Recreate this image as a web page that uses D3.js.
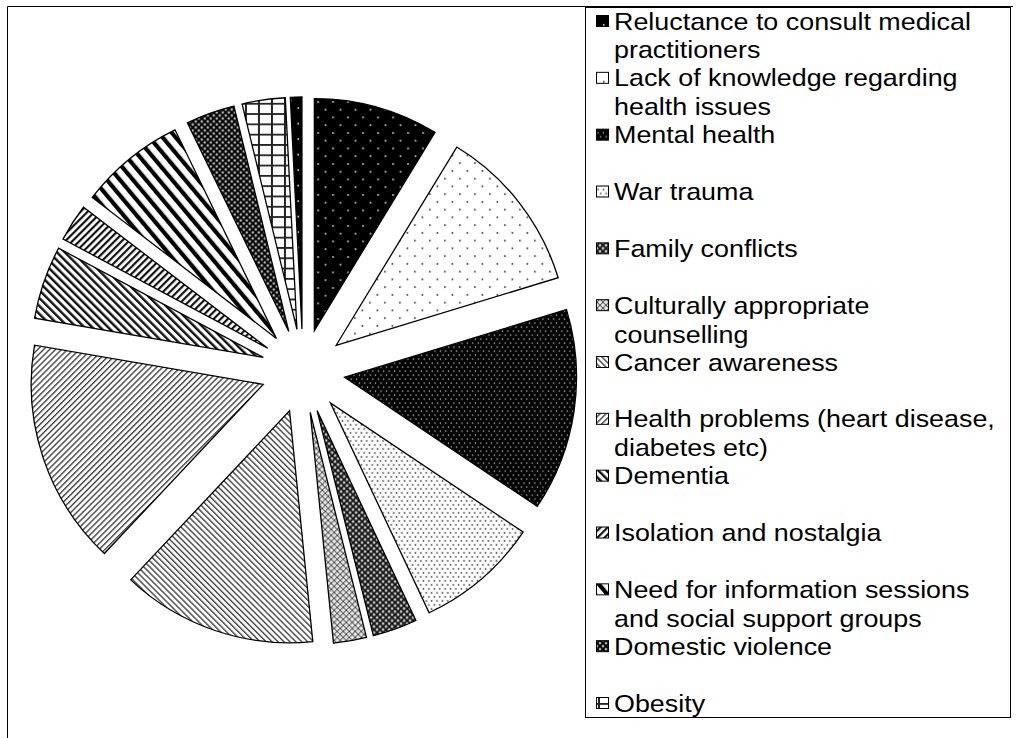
<!DOCTYPE html>
<html>
<head>
<meta charset="utf-8">
<script src="https://cdn.jsdelivr.net/npm/d3@7"></script>
<style>
  body { margin: 0; background: #fff; }
  text { font-family: "Liberation Sans", Arial, sans-serif; }
</style>
</head>
<body>
<div id="wrapper"></div>
<script>
// issues raised (share of responses)
const categories = [
    "Reluctance to consult medical practitioners",
    "Lack of knowledge regarding health issues",
    "Mental health",
    "War trauma",
    "Family conflicts",
    "Culturally appropriate counselling",
    "Cancer awareness",
    "Health problems (heart disease, diabetes etc)",
    "Dementia",
    "Isolation and nostalgia",
    "Need for information sessions and social support groups",
    "Domestic violence",
    "Obesity",
    "",
]
const values = [8.7, 11.6, 14.1, 8.6, 3.1, 2.3, 13.6, 15.7, 5.1, 2.6, 7.4, 3.4, 3.0, 0.8]
// legend text as it is wrapped in the picture
const legendLines = [
    ["Reluctance to consult medical", "practitioners"],
    ["Lack of knowledge regarding", "health issues"],
    ["Mental health"],
    ["War trauma"],
    ["Family conflicts"],
    ["Culturally appropriate", "counselling"],
    ["Cancer awareness"],
    ["Health problems (heart disease,", "diabetes etc)"],
    ["Dementia"],
    ["Isolation and nostalgia"],
    ["Need for information sessions", "and social support groups"],
    ["Domestic violence"],
    ["Obesity"],
]
const patternIds = ["blackDots", "whiteDots", "blackDense", "whiteDense", "crossDark", "crossLight",
    "diagDownThin", "diagUpThin", "diagDownDark", "diagUpDark", "diagWide", "crossDarker", "grid", "blackDots"]

const dimensions = {
    width: 1020,
    height: 738,
    cx: 303,
    cy: 371,
    radius: 232,
    explode: 42,
}

const svg = d3.select("#wrapper")
    .append("svg")
    .attr("width", dimensions.width)
    .attr("height", dimensions.height)

const defs = svg.append("defs")

function dotPattern(id, w, h, bg, fg, r, pts) {
    const p = defs.append("pattern").attr("id", id)
        .attr("patternUnits", "userSpaceOnUse")
        .attr("width", w).attr("height", h)
    p.append("rect").attr("width", w).attr("height", h).attr("fill", bg)
    pts.forEach(d => p.append("circle").attr("cx", d[0]).attr("cy", d[1]).attr("r", r).attr("fill", fg))
}
function stripePattern(id, size, color, lw, angle) {
    const p = defs.append("pattern").attr("id", id)
        .attr("patternUnits", "userSpaceOnUse")
        .attr("width", size).attr("height", size)
        .attr("patternTransform", `rotate(${angle})`)
    p.append("rect").attr("width", size).attr("height", size).attr("fill", "#fff")
    p.append("rect").attr("width", lw).attr("height", size).attr("fill", color)
}
function crossPattern(id, size, bg, line, lw, dot) {
    const p = defs.append("pattern").attr("id", id)
        .attr("patternUnits", "userSpaceOnUse")
        .attr("width", size).attr("height", size)
    p.append("rect").attr("width", size).attr("height", size).attr("fill", bg)
    p.append("path").attr("d", `M0,0L${size},${size}M${size},0L0,${size}`)
        .attr("stroke", line).attr("stroke-width", lw)
    ;[[size / 2, 0], [0, size / 2], [size, size / 2], [size / 2, size]].forEach(d =>
        p.append("circle").attr("cx", d[0]).attr("cy", d[1]).attr("r", 0.9).attr("fill", dot))
}

dotPattern("blackDots", 15, 15.5, "#000", "#ddd", 0.9, [[3.75, 3.9], [11.25, 11.65]])
dotPattern("whiteDots", 15, 15.5, "#fff", "#333", 0.9, [[3.75, 3.9], [11.25, 11.65]])
dotPattern("blackDense", 5.4, 8, "#000", "#ccc", 0.8, [[1.35, 2], [4.05, 6]])
dotPattern("whiteDense", 5.4, 8, "#fff", "#555", 0.9, [[1.35, 2], [4.05, 6]])
crossPattern("crossDark", 6, "#777", "#111", 1.4, "#eee")
crossPattern("crossLight", 6, "#ccc", "#555", 1, "#fff")
crossPattern("crossDarker", 6, "#666", "#000", 1.6, "#ddd")
stripePattern("diagDownThin", 4.2, "#444", 1.4, -45)
stripePattern("diagUpThin", 4.2, "#444", 1.4, 45)
stripePattern("diagDownDark", 5.6, "#111", 2.4, -45)
stripePattern("diagUpDark", 5, "#111", 2.2, 45)
stripePattern("diagWide", 10, "#000", 4.2, -40)
{
    const p = defs.append("pattern").attr("id", "grid")
        .attr("patternUnits", "userSpaceOnUse")
        .attr("width", 13).attr("height", 10.3)
    p.append("rect").attr("width", 13).attr("height", 10.3).attr("fill", "#fff")
    p.append("rect").attr("width", 2).attr("height", 10.3).attr("fill", "#222")
    p.append("rect").attr("width", 13).attr("height", 1.8).attr("fill", "#222")
}

// frame
svg.append("path")
    .attr("d", "M7.5,738V6.5H1013")
    .attr("fill", "none")
    .attr("stroke", "#000")
    .attr("stroke-width", 1)

const pie = d3.pie().sort(null).value(d => d)
const arcs = pie(values)
const arc = d3.arc().innerRadius(0).outerRadius(dimensions.radius)

const pieGroup = svg.append("g")
    .attr("transform", `translate(${dimensions.cx},${dimensions.cy})`)

pieGroup.selectAll("path")
    .data(arcs)
    .enter()
    .append("path")
    .attr("transform", d => {
        const mid = (d.startAngle + d.endAngle) / 2
        return `translate(${Math.sin(mid) * dimensions.explode},${-Math.cos(mid) * dimensions.explode})`
    })
    .attr("d", arc)
    .attr("fill", (d, i) => `url(#${patternIds[i]})`)
    .attr("stroke", "#000")
    .attr("stroke-width", 1.3)

// legend
const legend = svg.append("g")
legend.append("rect")
    .attr("x", 585.5).attr("y", 7.5)
    .attr("width", 425).attr("height", 710)
    .attr("fill", "#fff")
    .attr("stroke", "#000")

const legendY = d3.scaleLinear().domain([0, 12]).range([21, 703])

const items = legend.selectAll(".item")
    .data(legendLines)
    .enter()
    .append("g")
    .attr("class", "item")
    .attr("transform", (d, i) => `translate(0,${legendY(i)})`)

items.append("rect")
    .attr("x", 596.5).attr("y", -5.5)
    .attr("width", 12).attr("height", 11)
    .attr("fill", (d, i) => `url(#${patternIds[i]})`)
    .attr("stroke", "#000")

items.append("text")
    .attr("transform", "translate(614,8.5) scale(1.12,1)")
    .attr("font-size", 24)
    .attr("fill", "#000")
    .selectAll("tspan")
    .data(d => d)
    .enter()
    .append("tspan")
    .attr("x", 0)
    .attr("dy", (d, i) => i === 0 ? 0 : 29)
    .text(d => d)
</script>
</body>
</html>
